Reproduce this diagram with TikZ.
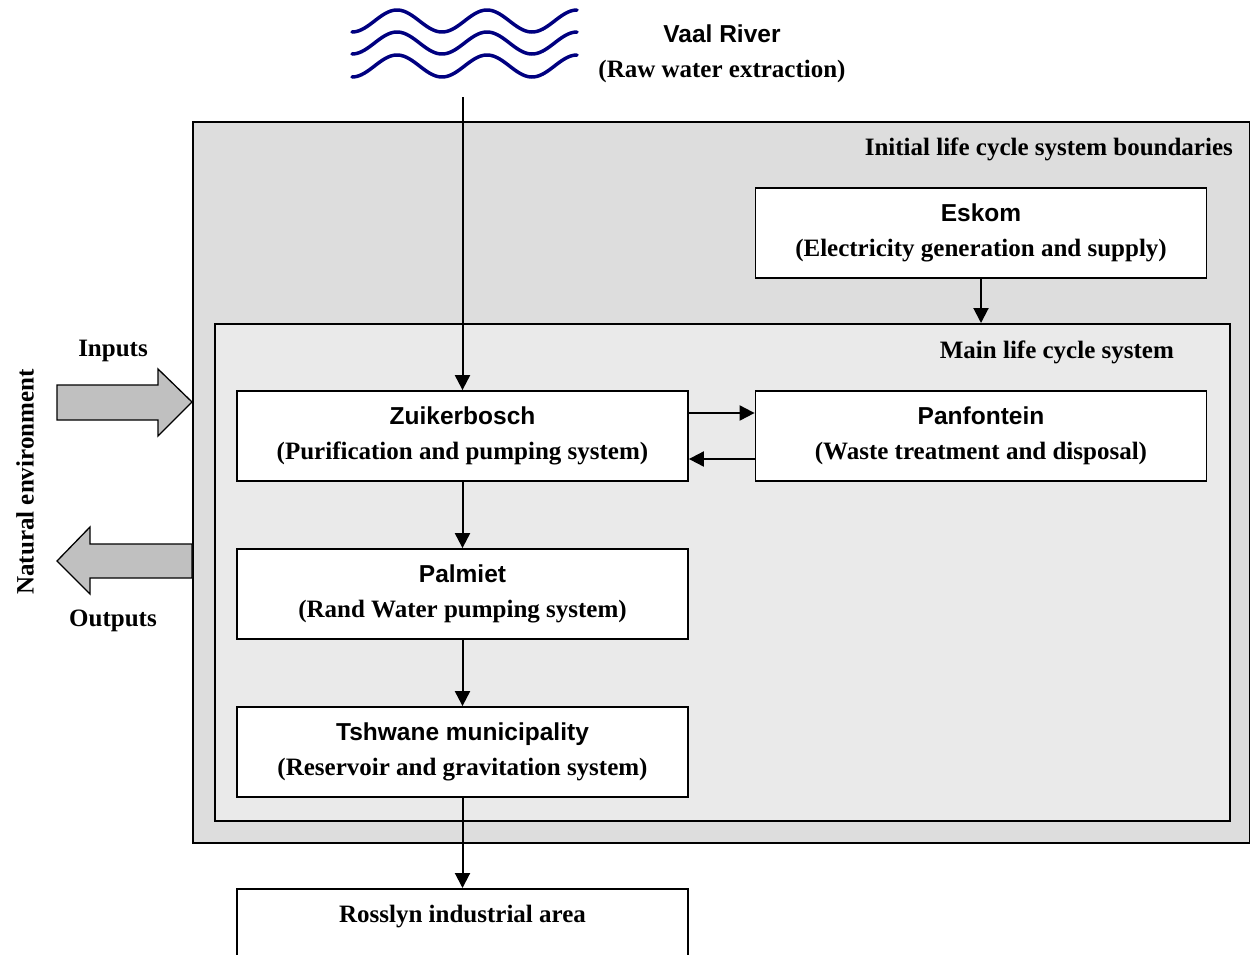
\documentclass[tikz,border=0pt]{standalone}
\usepackage{fontspec}
\setmainfont{Liberation Serif}
\newfontfamily\arialf{Liberation Sans}
\usetikzlibrary{arrows.meta}
\definecolor{outerfill}{HTML}{DDDDDD}
\definecolor{innerfill}{HTML}{EAEAEA}
\definecolor{arrowfill}{HTML}{C0C0C0}
\definecolor{wavecol}{HTML}{000080}
\newcommand{\hd}[1]{{\arialf\fontsize{24.5}{35}\selectfont\bfseries #1}}
\begin{document}
\begin{tikzpicture}[x=1pt,y=-1pt,
  box/.style={draw, line width=1.8pt, fill=white, minimum width=451pt, minimum height=90pt,
    inner sep=0pt, align=center, font=\fontsize{25}{35}\selectfont\bfseries},
  frame/.style={draw, line width=1.8pt, anchor=north west, inner sep=0pt},
  conn/.style={line width=2pt, -{Triangle[length=15pt,width=15pt]}},
  lbl/.style={inner sep=0pt, font=\fontsize{25}{30}\selectfont\bfseries},
  bigarrow/.style={draw, line width=1.3pt, fill=arrowfill, line join=miter}]
\clip (0,0) rectangle (1250,954);
\fill[white] (0,0) rectangle (1250,954);
% boundaries
\node[frame, fill=outerfill, minimum width=1057pt, minimum height=721pt] (outer) at (192,121) {};
\node[frame, fill=innerfill, minimum width=1015pt, minimum height=497pt] (inner) at (214,323) {};
\node[lbl, anchor=east] (initlbl) at (1233,149) {Initial life cycle system boundaries};
\node[lbl, anchor=east] (mainlbl) at (1174,352) {Main life cycle system};
% river
\foreach \cy in {21,43,66}
  \draw[wavecol, line width=3.5pt, line cap=round, domain=352:577, samples=120, smooth]
    plot (\x, {\cy + 11*cos((\x-352)*4)});
\node[inner sep=0pt] (vaal) at (722,34) {\hd{Vaal River}};
\node[lbl] (vaalsub) at (722,71) {(Raw water extraction)};
\coordinate (src) at (462.5,97);
% boxes
\node[box] (esk) at (981,233) {\hd{Eskom}\\(Electricity generation and supply)};
\node[box] (zui) at (462.5,436) {\hd{Zuikerbosch}\\(Purification and pumping system)};
\node[box] (pan) at (981,436) {\hd{Panfontein}\\(Waste treatment and disposal)};
\node[box] (pal) at (462.5,594) {\hd{Palmiet}\\(Rand Water pumping system)};
\node[box] (tsh) at (462.5,752) {\hd{Tshwane municipality}\\(Reservoir and gravitation system)};
\node[box, anchor=north, minimum height=0pt, text height=34pt, text depth=90pt] (ros) at (462.5,888) {Rosslyn industrial area};
% connectors
\draw[conn] (src) -- (zui.north);
\draw[conn] (esk.south) -- (esk.south |- inner.north);
\draw[conn] ([yshift=23pt]zui.east) -- ([yshift=23pt]pan.west);
\draw[conn] ([yshift=-23pt]pan.west) -- ([yshift=-23pt]zui.east);
\draw[conn] (zui.south) -- (pal.north);
\draw[conn] (pal.south) -- (tsh.north);
\draw[conn] (tsh.south) -- (ros.north);
% inputs / outputs
\draw[bigarrow] (57,385) -- (158,385) -- (158,369) -- (192,402) -- (158,436) -- (158,420) -- (57,420) -- cycle;
\draw[bigarrow] (192,544) -- (90,544) -- (90,527) -- (57,561) -- (90,594) -- (90,578) -- (192,578) -- cycle;
\node[lbl] (inputs) at (113,351) {Inputs};
\node[lbl] (outputs) at (113,621) {Outputs};
\node[lbl, rotate=90] (natenv) at (25,482) {Natural environment};
\end{tikzpicture}
\end{document}
